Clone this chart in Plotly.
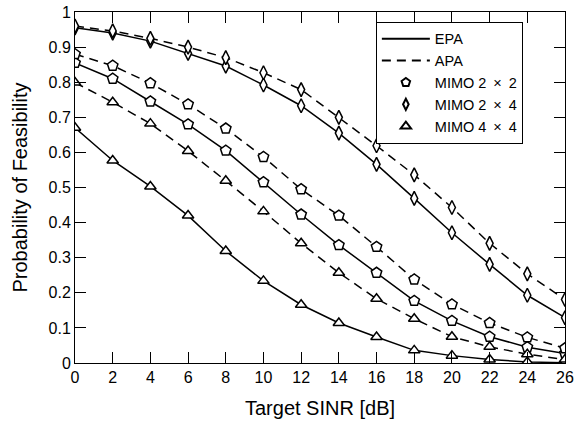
import plotly.graph_objects as go

sinr = [0, 2, 4, 6, 8, 10, 12, 14, 16, 18, 20, 22, 24, 26]

epa_22 = [0.855, 0.81, 0.745, 0.68, 0.605, 0.515, 0.423, 0.336, 0.257, 0.177, 0.12, 0.075, 0.045, 0.027]
apa_22 = [0.88, 0.847, 0.797, 0.737, 0.668, 0.587, 0.495, 0.42, 0.331, 0.238, 0.167, 0.114, 0.073, 0.042]
epa_24 = [0.955, 0.94, 0.917, 0.882, 0.846, 0.792, 0.733, 0.655, 0.566, 0.469, 0.371, 0.281, 0.193, 0.129]
apa_24 = [0.96, 0.946, 0.925, 0.9, 0.87, 0.827, 0.779, 0.70, 0.619, 0.536, 0.443, 0.341, 0.254, 0.181]
epa_44 = [0.67, 0.577, 0.503, 0.42, 0.319, 0.234, 0.166, 0.114, 0.074, 0.036, 0.021, 0.01, 0.003, 0.001]
apa_44 = [0.799, 0.743, 0.682, 0.604, 0.519, 0.432, 0.341, 0.257, 0.183, 0.126, 0.075, 0.046, 0.025, 0.01]

yticks = [0, 0.1, 0.2, 0.3, 0.4, 0.5, 0.6, 0.7, 0.8, 0.9, 1]
ytext = ["0", "0.1", "0.2", "0.3", "0.4", "0.5", "0.6", "0.7", "0.8", "0.9", "1"]

DASH = "9px,6px"
LW = 1.5

series = [
    (epa_22, "solid", "pentagon", 11),
    (apa_22, DASH, "pentagon", 11),
    (epa_24, "solid", "diamond-tall", 10),
    (apa_24, DASH, "diamond-tall", 10),
    (epa_44, "solid", "triangle-up", 10),
    (apa_44, DASH, "triangle-up", 10),
]

fig = go.Figure()
for ys, dash, sym, ms in series:
    fig.add_trace(go.Scatter(
        x=sinr, y=ys, mode="lines+markers", showlegend=False,
        line=dict(color="black", width=LW, dash=dash),
        marker=dict(symbol=sym, size=ms, color="white",
                    line=dict(color="black", width=1.5)),
    ))

# legend entries
fig.add_trace(go.Scatter(x=[None], y=[None], mode="lines", name="EPA",
                         line=dict(color="black", width=2)))
fig.add_trace(go.Scatter(x=[None], y=[None], mode="lines", name="APA",
                         line=dict(color="black", width=2, dash=DASH)))
for name, sym, ms in [("MIMO 2 \u2009×\u2009 2", "pentagon", 9),
                      ("MIMO 2 \u2009×\u2009 4", "diamond-tall", 8),
                      ("MIMO 4 \u2009×\u2009 4", "triangle-up", 9)]:
    fig.add_trace(go.Scatter(x=[None], y=[None], mode="markers", name=name,
                             marker=dict(symbol=sym, size=ms, color="white",
                                         line=dict(color="black", width=2))))

font = "Liberation Sans, Arial, sans-serif"
fig.update_layout(
    width=579, height=421,
    margin=dict(l=75, r=14, t=12, b=58),
    paper_bgcolor="white", plot_bgcolor="white",
    font=dict(family=font, size=16, color="black"),
    legend=dict(x=0.614, y=0.972, xanchor="left", yanchor="top",
                bordercolor="black", borderwidth=1, bgcolor="white",
                font=dict(size=14.5), tracegroupgap=0, itemwidth=48),
    xaxis=dict(range=[0, 26], tickvals=sinr, ticks="inside", ticklen=11,
               tickwidth=1, tickcolor="black", showline=True, linecolor="black",
               linewidth=1, mirror="ticks", showgrid=False, zeroline=False,
               automargin=False,
               title=dict(text="Target SINR [dB]", font=dict(size=20)),
               tickfont=dict(size=16)),
    yaxis=dict(range=[0, 1], tickvals=yticks, ticktext=ytext, ticks="inside",
               ticklen=11, tickwidth=1, tickcolor="black", showline=True,
               linecolor="black", linewidth=1, mirror="ticks", showgrid=False,
               zeroline=False, automargin=False,
               title=dict(text="Probability of Feasibility", font=dict(size=20)),
               tickfont=dict(size=16)),
)

fig.write_html("out.html", config={"displayModeBar": False},
               post_script="document.body.style.margin='0';document.body.style.padding='0';")
